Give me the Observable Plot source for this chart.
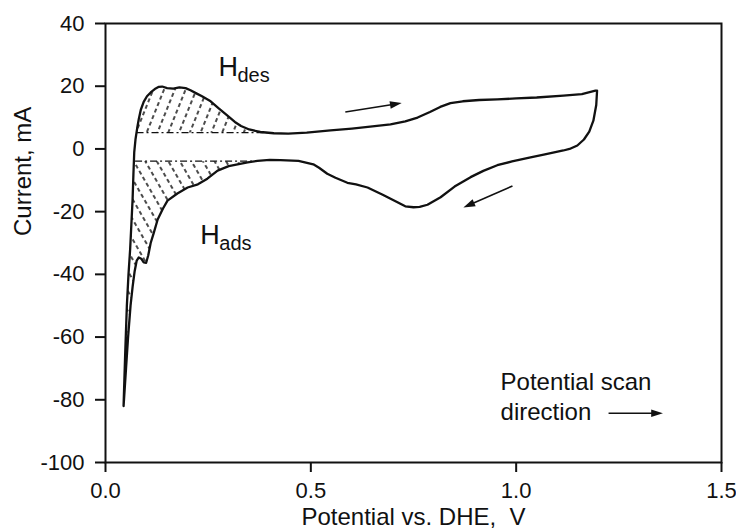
<!DOCTYPE html>
<html>
<head>
<meta charset="utf-8">
<script src="https://cdn.jsdelivr.net/npm/d3@7"></script>
<script src="https://cdn.jsdelivr.net/npm/@observablehq/plot@0.6"></script>
<style>
  html, body { margin: 0; padding: 0; background: #fff; }
  #chart { width: 736px; height: 528px; }
</style>
</head>
<body>
<div id="chart"></div>
<script>
// ---- data ----
// anodic (forward) scan, potential in V vs DHE, current in mA
const anodicX = [0.044, 0.048, 0.052, 0.056, 0.060, 0.063, 0.066, 0.068, 0.070, 0.073, 0.077, 0.081, 0.086, 0.093, 0.101, 0.110, 0.120, 0.130, 0.138, 0.150, 0.165, 0.180, 0.195, 0.207, 0.220, 0.235, 0.256, 0.275, 0.297, 0.315, 0.330, 0.350, 0.377, 0.410, 0.445, 0.490, 0.548, 0.600, 0.650, 0.694, 0.730, 0.760, 0.790, 0.815, 0.840, 0.870, 0.910, 0.954, 1.000, 1.050, 1.115, 1.160, 1.193];
const anodicY = [-82, -65, -50, -40, -32, -24, -16, -8, -1, 3, 6.5, 9.5, 12.5, 15, 16.8, 18.0, 19.1, 19.8, 19.9, 19.4, 19.2, 19.6, 19.4, 18.7, 17.8, 16.8, 15.2, 13.0, 10.6, 8.6, 7.3, 6.2, 5.4, 5.0, 4.9, 5.2, 5.9, 6.5, 7.2, 7.8, 8.8, 10.0, 11.8, 13.4, 14.6, 15.2, 15.6, 15.8, 16.1, 16.4, 17.0, 17.5, 18.6];
// cathodic (reverse) scan
const cathodicX = [1.197, 1.195, 1.188, 1.178, 1.165, 1.149, 1.130, 1.115, 1.070, 1.035, 0.990, 0.954, 0.920, 0.889, 0.850, 0.816, 0.784, 0.765, 0.750, 0.730, 0.711, 0.675, 0.638, 0.610, 0.589, 0.560, 0.540, 0.520, 0.506, 0.470, 0.426, 0.400, 0.370, 0.346, 0.300, 0.273, 0.248, 0.225, 0.200, 0.175, 0.151, 0.140, 0.127, 0.117, 0.110, 0.104, 0.099, 0.093, 0.087, 0.081, 0.076, 0.071, 0.066, 0.061, 0.055, 0.050, 0.044];
const cathodicY = [18.6, 14, 9, 5.5, 3, 1.1, 0, -0.5, -1.7, -2.7, -4, -5.2, -7, -9, -12, -15.4, -17.8, -18.5, -18.6, -18.3, -17, -14.6, -12.3, -11.3, -10.8, -9.2, -7.9, -6, -4.9, -3.8, -3.6, -3.5, -3.8, -4.3, -5.5, -6.9, -9.5, -11.3, -12.3, -14.2, -16.5, -19, -22.5, -27, -30, -34, -36.3, -36.2, -35, -34.6, -35.6, -39, -44, -50, -60, -70, -82];

// baselines of the hydrogen desorption / adsorption charge regions (mA)
const hDesBase = 5.2;
const hAdsBase = -3.9;
const hRegionMaxX = 0.45; // V, limit of the hydrogen region

// axis ticks
const xTicks = [0.0, 0.5, 1.0, 1.5];
const yTicks = [-100, -80, -60, -40, -20, 0, 20, 40];

// scan-direction arrows (start -> end)
const arrowX1 = [0.584, 0.991, 1.225];
const arrowY1 = [11.8, -11.8, -84.3];
const arrowX2 = [0.711, 0.881, 1.347];
const arrowY2 = [14.4, -18.1, -84.3];

// ---- derived tables ----
const loop = [
  ...anodicX.map((x, i) => ({x, y: anodicY[i]})),
  ...cathodicX.map((x, i) => ({x, y: cathodicY[i]}))
];
const arrows = arrowX1.map((x1, i) => ({x1, y1: arrowY1[i], x2: arrowX2[i], y2: arrowY2[i]}));

// Sutherland-Hodgman clip of the closed loop against a half-plane
function clip(poly, inside, cross) {
  const out = [];
  for (let i = 0; i < poly.length; i++) {
    const cur = poly[i], prev = poly[(i + poly.length - 1) % poly.length];
    if (inside(cur)) {
      if (!inside(prev)) out.push(cross(prev, cur));
      out.push(cur);
    } else if (inside(prev)) out.push(cross(prev, cur));
  }
  return out;
}
const atY = h => (a, b) => ({x: a.x + (b.x - a.x) * (h - a.y) / (b.y - a.y), y: h, edge: true});
const atX = v => (a, b) => ({x: v, y: a.y + (b.y - a.y) * (v - a.x) / (b.x - a.x)});

const desRegion = clip(clip(loop, p => p.y >= hDesBase, atY(hDesBase)), p => p.x <= hRegionMaxX, atX(hRegionMaxX));
const adsRegion = clip(clip(loop, p => p.y <= hAdsBase, atY(hAdsBase)), p => p.x <= hRegionMaxX, atX(hRegionMaxX));
const desExt = d3.extent(desRegion.filter(p => p.edge), p => p.x);
const adsExt = d3.extent(adsRegion.filter(p => p.edge && p.y === hAdsBase && p.x > 0.068), p => p.x);
const baseLines = [
  {y: hDesBase, x1: desExt[0], x2: desExt[1]},
  {y: hAdsBase, x1: Math.max(adsExt[0], 0.072), x2: adsExt[1]}
];

const font = "'Liberation Sans', Arial, Helvetica, sans-serif";

const plot = Plot.plot({
  width: 736,
  height: 528,
  marginLeft: 105,
  marginRight: 15,
  marginTop: 23,
  marginBottom: 66,
  style: {fontFamily: font, fontSize: "22px", color: "#111", background: "#fff"},
  x: {domain: [0, 1.5]},
  y: {domain: [-100, 40]},
  marks: [
    Plot.line(desRegion, {x: "x", y: "y", fill: "url(#hatchDes)", stroke: "none"}),
    Plot.line(adsRegion, {x: "x", y: "y", fill: "url(#hatchAds)", stroke: "none"}),
    Plot.link(baseLines, {x1: "x1", x2: "x2", y1: "y", y2: "y", stroke: "#111", strokeWidth: 1.4, strokeDasharray: "7 3 2 3"}),
    Plot.line(loop, {x: "x", y: "y", stroke: "#111", strokeWidth: 2.3, strokeLinejoin: "round"}),
    Plot.link(arrows, {x1: "x1", y1: "y1", x2: "x2", y2: "y2", stroke: "#111", strokeWidth: 1.6, markerEnd: "arrow"}),
    Plot.frame({stroke: "#111", strokeWidth: 2}),
    Plot.axisX({ticks: xTicks, tickFormat: d => d.toFixed(1), tickSize: 10, tickPadding: 10, strokeWidth: 2, label: null, fontSize: 22}),
    Plot.axisY({ticks: yTicks, tickFormat: d => String(d), tickSize: 10, tickPadding: 11, strokeWidth: 2, label: null, fontSize: 22}),
    Plot.text(["Potential vs. DHE,  V"], {frameAnchor: "bottom", dy: 62, lineAnchor: "bottom", fontSize: 24}),
    Plot.text(["Current, mA"], {frameAnchor: "left", rotate: -90, dx: -82, dy: -7, lineAnchor: "middle", fontSize: 24}),
    // H_des and H_ads labels
    Plot.text(["H"], {x: 0.275, y: 23.1, textAnchor: "start", lineAnchor: "bottom", fontSize: 27}),
    Plot.text(["des"], {x: 0.275, y: 23.1, dx: 19, dy: 6, textAnchor: "start", lineAnchor: "bottom", fontSize: 20}),
    Plot.text(["H"], {x: 0.231, y: -30.2, textAnchor: "start", lineAnchor: "bottom", fontSize: 27}),
    Plot.text(["ads"], {x: 0.231, y: -30.2, dx: 19, dy: 6, textAnchor: "start", lineAnchor: "bottom", fontSize: 20}),
    Plot.text(["Potential scan\ndirection"], {x: 0.962, y: -86.6, textAnchor: "start", lineAnchor: "bottom", lineHeight: 1.25, fontSize: 24})
  ]
});

// hatch patterns for the hydrogen charge regions
d3.select(plot).insert("defs", ":first-child").html(`
  <pattern id="hatchDes" patternUnits="userSpaceOnUse" width="10" height="14" patternTransform="rotate(22)">
    <line x1="5" y1="0" x2="5" y2="14" stroke="#000" stroke-width="1.4" stroke-dasharray="4 3"/>
  </pattern>
  <pattern id="hatchAds" patternUnits="userSpaceOnUse" width="10" height="14" patternTransform="rotate(-30)">
    <line x1="5" y1="0" x2="5" y2="14" stroke="#000" stroke-width="1.4" stroke-dasharray="4 3"/>
  </pattern>`);

// filled triangular arrowheads, as in the original figure
d3.select(plot).selectAll("marker")
  .attr("fill", function() { return this.getAttribute("stroke") || "#111"; })
  .attr("stroke", "none")
  .attr("overflow", "visible")
  .select("path")
  .attr("d", "M-7,-3.6L4,0L-7,3.6Z");

document.getElementById("chart").appendChild(plot);
</script>
</body>
</html>
